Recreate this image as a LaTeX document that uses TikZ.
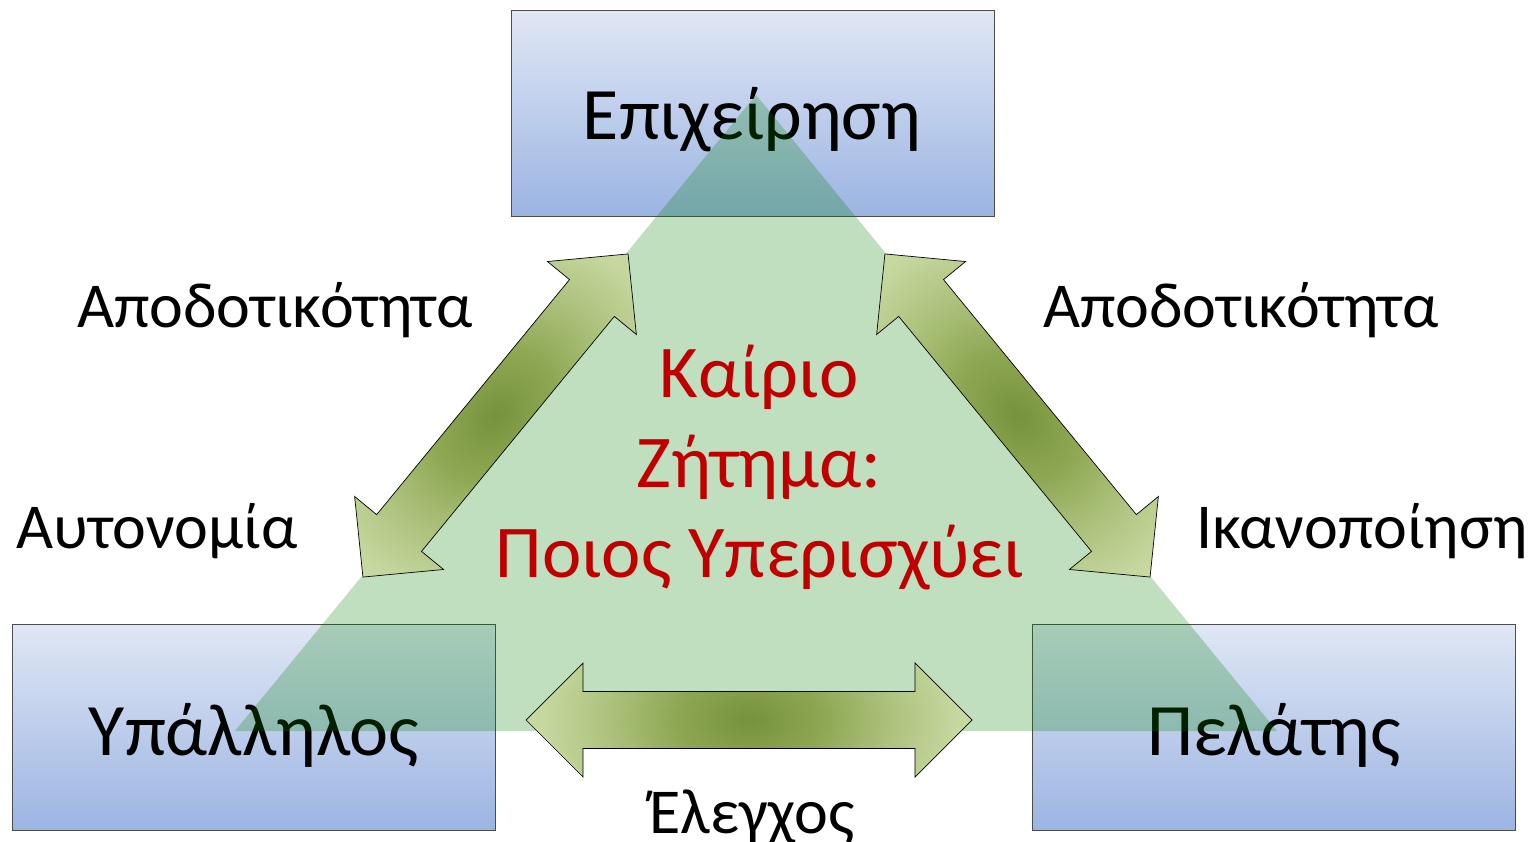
\documentclass[tikz,border=0pt]{standalone}
\usepackage{fontspec}
\setmainfont{Carlito}
\definecolor{boxtop}{RGB}{224,231,245}
\definecolor{boxbot}{RGB}{155,180,226}
\definecolor{trigreen}{RGB}{0,128,0}
\definecolor{redtxt}{RGB}{192,0,0}
\definecolor{ash0}{RGB}{118,146,60}
\definecolor{ash1}{RGB}{141,166,82}
\definecolor{ash2}{RGB}{169,191,120}
\definecolor{ash3}{RGB}{197,215,158}
\definecolor{ash4}{RGB}{218,229,192}
\definecolor{ash5}{RGB}{236,242,224}
\pgfdeclareradialshading{arrshade}{\pgfpoint{0bp}{0bp}}{color(0bp)=(ash0); color(8bp)=(ash1); color(15bp)=(ash2); color(23bp)=(ash3); color(36bp)=(ash4); color(48bp)=(ash5); color(75bp)=(ash5)}
\newcommand{\dblarr}[4]{(-#1,0) -- (-#1+#2,#3) -- (-#1+#2,#4) -- (#1-#2,#4) -- (#1-#2,#3) -- (#1,0) -- (#1-#2,-#3) -- (#1-#2,-#4) -- (-#1+#2,-#4) -- (-#1+#2,-#3) -- cycle}
\begin{document}
\begin{tikzpicture}[x=1pt,y=-1pt,
  box/.style={draw=black!70, line width=1pt, top color=boxtop, bottom color=boxbot,
    minimum width=483pt, minimum height=206pt, inner sep=0pt},
  boxlabel/.style={anchor=base, font=\fontsize{74}{88}\selectfont, text=black, inner sep=0pt},
  sidelabel/.style={anchor=base, font=\fontsize{64}{76}\selectfont, text=black, inner sep=0pt},
  keytext/.style={anchor=base, font=\fontsize{74.5}{89}\selectfont, text=redtxt, inner sep=0pt},
  arrowline/.style={draw=black, line width=0.7pt, line join=miter},
  tri/.style={fill=trigreen, fill opacity=0.25}
]
\useasboundingbox (0,0) rectangle (1534,842);
\fill[white] (0,0) rectangle (1534,842);

% boxes
\node[box] (biz) at (752.5,114) {};
\node[box] (emp) at (254,727.5) {};
\node[box] (cli) at (1273.5,727.5) {};
\node[boxlabel] (bizT) at (752,140) {Επιχείρηση};
\node[boxlabel] (empT) at (254,755) {Υπάλληλος};
\node[boxlabel] (cliT) at (1274,755) {Πελάτης};

% translucent triangle
\coordinate (apex) at (756,95);
\coordinate (bl) at (235,731);
\coordinate (br) at (1277,731);
\fill[tri] (apex) -- (bl) -- (br) -- cycle;

% double arrows
\coordinate (aL) at (495.5,415.5);
\coordinate (aR) at (1017.5,415.5);
\coordinate (aB) at (749,720);
\begin{scope}[transform canvas={shift={(aL)}, rotate=50.63}]
  \begin{scope}
    \clip \dblarr{209}{57}{57.5}{29};
    \shade[shading=arrshade] (-209,-150) rectangle (209,150);
  \end{scope}
  \draw[arrowline] \dblarr{209}{57}{57.5}{29};
\end{scope}
\begin{scope}[transform canvas={shift={(aR)}, rotate=-50.63}]
  \begin{scope}
    \clip \dblarr{209}{57}{57.5}{29};
    \shade[shading=arrshade] (-209,-150) rectangle (209,150);
  \end{scope}
  \draw[arrowline] \dblarr{209}{57}{57.5}{29};
\end{scope}
\begin{scope}[transform canvas={shift={(aB)}}]
  \begin{scope}
    \clip \dblarr{223}{57}{57}{28.5};
    \shade[shading=arrshade] (-223,-150) rectangle (223,150);
  \end{scope}
  \draw[arrowline] \dblarr{223}{57}{57}{28.5};
\end{scope}

% side labels
\node[sidelabel] (effL) at (275,327) {Αποδοτικότητα};
\node[sidelabel] (effR) at (1241,327) {Αποδοτικότητα};
\node[sidelabel] (aut) at (157,548) {Αυτονομία};
\node[sidelabel] (sat) at (1362,548) {Ικανοποίηση};
\node[sidelabel] (ctl) at (752,833) {Έλεγχος};

% central issue
\node[keytext] (key1) at (759,397) {Καίριο};
\node[keytext] (key2) at (759,487) {Ζήτημα:};
\node[keytext] (key3) at (760,577) {Ποιος Υπερισχύει};
\end{tikzpicture}
\end{document}
